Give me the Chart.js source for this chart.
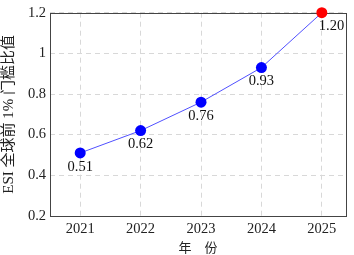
<!DOCTYPE html>
<html>
<head>
<meta charset="utf-8">
<script src="https://cdn.jsdelivr.net/npm/chart.js@4"></script>
<style>
  html, body { margin: 0; padding: 0; background: #fff; }
  #wrap { width: 354px; height: 255px; }
</style>
</head>
<body>
<div id="wrap"><canvas id="myChart" width="354" height="255"></canvas></div>
<script>
/** Daten */
var years = [2021, 2022, 2023, 2024, 2025];
var ratios = [0.51, 0.62, 0.76, 0.93, 1.20];
var ratioLabels = ['0.51', '0.62', '0.76', '0.93', '1.20'];
var yTicks = [0.2, 0.4, 0.6, 0.8, 1, 1.2];

var serif = "'Liberation Serif', 'DejaVu Serif', 'Noto Sans CJK SC', serif";
var pointColors = ratios.map(function(v, i){ return i === ratios.length - 1 ? '#ff0000' : '#0000ff'; });

/** Rahmen + Beschriftungen */
var boxAndLabels = {
  id: 'boxAndLabels',
  beforeDatasetsDraw: function(chart){
    var c = chart.ctx, a = chart.chartArea;
    c.save();
    c.strokeStyle = '#444';
    c.lineWidth = 1;
    c.strokeRect(Math.round(a.left) + 0.5, Math.round(a.top) + 0.5, Math.round(a.right - a.left), Math.round(a.bottom - a.top));
    c.restore();
  },
  afterDatasetsDraw: function(chart){
    var c = chart.ctx;
    c.save();
    c.font = '14.5px ' + serif;
    c.fillStyle = '#111';
    c.textBaseline = 'middle';
    chart.getDatasetMeta(0).data.forEach(function(p, i){
      if (i === ratios.length - 1) {
        c.textAlign = 'left';
        c.fillText(ratioLabels[i], p.x - 3, p.y + 13);
      } else {
        c.textAlign = 'center';
        c.fillText(ratioLabels[i], p.x, p.y + 14);
      }
    });
    c.restore();
  }
};

Chart.defaults.font.family = serif;
Chart.defaults.color = '#222';
var ctx = document.getElementById('myChart').getContext('2d');
var myChart = new Chart(ctx, {
  type: 'line',
  data: {
    datasets: [{
      data: years.map(function(y, i){ return { x: y, y: ratios[i] }; }),
      borderColor: '#5050ff',
      borderWidth: 1,
      backgroundColor: pointColors,
      pointBackgroundColor: pointColors,
      pointBorderColor: pointColors,
      pointRadius: 5.5,
      pointBorderWidth: 0,
      tension: 0,
      clip: false
    }]
  },
  options: {
    responsive: false,
    animation: false,
    layout: { padding: { top: 8, right: 8, left: 0, bottom: 0 } },
    plugins: { legend: { display: false }, tooltip: { enabled: false } },
    scales: {
      x: {
        type: 'linear',
        min: 2020.5,
        max: 2025.4,
        afterBuildTicks: function(s){ s.ticks = years.map(function(v){ return { value: v }; }); },
        afterFit: function(s){ s.height = 39; },
        grid: { color: '#d8d8d8', drawTicks: false },
        border: { display: false, dash: [5, 4] },
        ticks: { font: { size: 14.5 }, padding: 4, callback: function(v){ return String(v); } },
        title: { display: true, text: '年　份', font: { size: 13, family: "'Noto Sans CJK SC', sans-serif" }, padding: { top: 0, bottom: 0 }, color: '#222' }
      },
      y: {
        min: 0.2,
        max: 1.2,
        afterBuildTicks: function(s){ s.ticks = yTicks.map(function(v){ return { value: v }; }); },
        afterFit: function(s){ s.width = 50; },
        grid: { color: '#d8d8d8', drawTicks: false },
        border: { display: false, dash: [5, 4] },
        ticks: { font: { size: 14.5 }, padding: 4, callback: function(v){ return String(v); } },
        title: { display: true, text: 'ESI 全球前 1% 门槛比值', font: { size: 15, family: "'Liberation Serif', 'Noto Sans CJK SC', serif" }, padding: { top: 0, bottom: 1 }, color: '#222' }
      }
    }
  },
  plugins: [boxAndLabels]
});
</script>
</body>
</html>
